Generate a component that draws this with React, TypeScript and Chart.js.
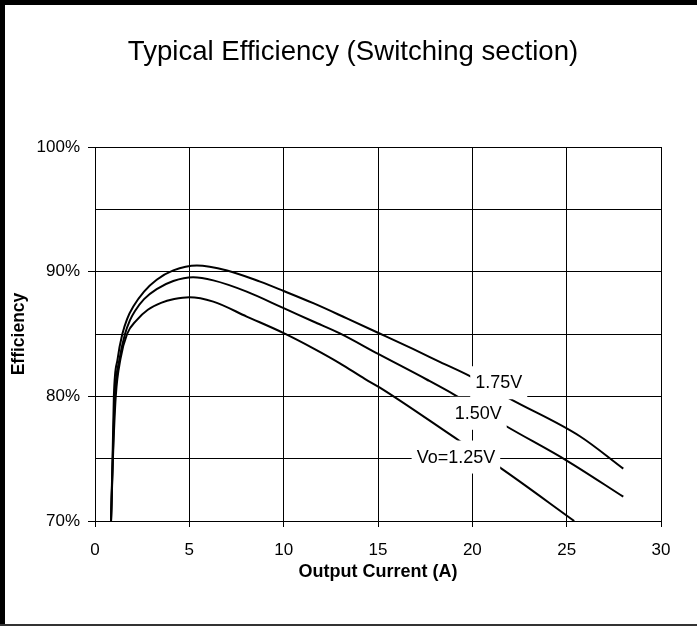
import React, { useEffect, useRef } from 'react';
import { Chart, registerables } from 'chart.js';

Chart.register(...registerables);

// ---- data ----
const current175 = [0.85, 0.93, 1.0, 1.2, 1.45, 1.7, 2.03, 2.6, 3.27, 4.15, 5.4, 7.0, 8.75, 10.0, 11.6, 13.35, 15.0, 16.85, 18.3, 19.9, 22.0, 25.7, 28.0];
const eff175 = [70, 75, 80, 83, 85, 86.2, 87.2, 88.4, 89.35, 90.1, 90.5, 90.1, 89.2, 88.45, 87.45, 86.25, 85.1, 83.8, 82.75, 81.6, 79.8, 76.8, 74.2];

const current150 = [0.85, 0.94, 1.05, 1.3, 1.59, 1.85, 2.12, 2.6, 3.27, 4.15, 5.2, 6.27, 8.04, 10.03, 11.57, 12.98, 15.01, 17.58, 19.08, 21.8, 25.0, 28.0];
const eff150 = [70, 75, 80, 83, 85, 86.1, 86.85, 87.8, 88.6, 89.25, 89.55, 89.3, 88.4, 87.05, 86.0, 85.05, 83.4, 81.35, 80.1, 77.6, 74.85, 71.95];

const current125 = [0.85, 0.95, 1.1, 1.35, 1.7, 2.2, 2.8, 3.5, 4.2, 5.0, 6.27, 8.04, 10.03, 11.57, 12.98, 14.3, 15.1, 19.35, 21.45, 25.4];
const eff125 = [70, 75, 80, 83, 85, 86.1, 86.95, 87.5, 87.8, 87.95, 87.6, 86.4, 85.05, 83.85, 82.65, 81.4, 80.7, 76.4, 74.3, 70];

const seriesNames = ['1.75V', '1.50V', 'Vo=1.25V'];
const labelCurrents = [21.4, 20.31, 19.13];
const labelEffs = [81.05, 78.6, 75.09];

const xTickValues = [0, 5, 10, 15, 20, 25, 30];
const yTickValues = [70, 80, 90, 100];
const titleText = 'Typical Efficiency (Switching section)';
const xTitle = 'Output Current (A)';
const yTitle = 'Efficiency';

const FONT = '"Liberation Sans", Arial, Helvetica, sans-serif';

const toPoints = (xs: number[], ys: number[]) => xs.map((x, i) => ({ x, y: ys[i] }));

const annotPlugin = {
  id: 'annot',
  afterDatasetsDraw(chart: any) {
    const { ctx, scales } = chart;
    const xs = scales.x;
    const ys = scales.y;
    ctx.save();
    ctx.font = `18px ${FONT}`;
    ctx.textAlign = 'center';
    ctx.textBaseline = 'middle';
    seriesNames.forEach((t, i) => {
      const px = xs.getPixelForValue(labelCurrents[i]);
      const py = ys.getPixelForValue(labelEffs[i]);
      const w = ctx.measureText(t).width;
      ctx.fillStyle = '#fff';
      ctx.fillRect(px - w / 2 - 5, py - 17, w + 10, 33);
    });
    seriesNames.forEach((t, i) => {
      const px = xs.getPixelForValue(labelCurrents[i]);
      const py = ys.getPixelForValue(labelEffs[i]);
      ctx.fillStyle = '#000';
      ctx.fillText(t, px, py);
    });
    ctx.restore();
  },
  afterDraw(chart: any) {
    const { ctx, width, height } = chart;
    ctx.save();
    ctx.fillStyle = '#000';
    ctx.fillRect(0, 0, 5, height);
    ctx.fillRect(0, 0, width, 5);
    ctx.fillStyle = '#333';
    ctx.fillRect(0, height - 2, width, 2);
    ctx.fillStyle = '#000';
    ctx.font = `27.6px ${FONT}`;
    ctx.textAlign = 'center';
    ctx.textBaseline = 'alphabetic';
    ctx.fillText(titleText, 353, 60);
    ctx.restore();
  },
};

export default function App() {
  const ref = useRef<HTMLCanvasElement | null>(null);
  useEffect(() => {
    document.body.style.margin = '0';
    if (!ref.current) return;
    Chart.defaults.font.family = FONT;
    Chart.defaults.color = '#000';
    const mk = (label: string, xs: number[], ys: number[]) => ({
      label,
      data: toPoints(xs, ys),
      borderColor: '#000',
      backgroundColor: '#000',
      borderWidth: 2,
      pointRadius: 0,
      fill: false,
      tension: 0.4,
      cubicInterpolationMode: 'monotone' as const,
    });
    const chart = new Chart(ref.current, {
      type: 'line',
      data: {
        datasets: [
          mk(seriesNames[0], current175, eff175),
          mk(seriesNames[1], current150, eff150),
          mk(seriesNames[2], current125, eff125),
        ],
      },
      options: {
        animation: false,
        responsive: false,
        devicePixelRatio: 1,
        layout: { padding: { left: 0, right: 36, top: 147, bottom: 0 } },
        plugins: { legend: { display: false }, tooltip: { enabled: false }, title: { display: false } },
        scales: {
          x: {
            type: 'linear',
            min: 0,
            max: 30,
            afterFit: (s: any) => { s.height = 105; },
            afterBuildTicks: (s: any) => { s.ticks = xTickValues.map((v) => ({ value: v })); },
            ticks: { stepSize: 5, padding: 13, font: { size: 17 }, color: '#000', maxRotation: 0 },
            grid: { color: '#000', lineWidth: 1, tickLength: 6, tickColor: '#000' },
            border: { color: '#000', width: 1 },
            title: { display: true, text: xTitle, font: { size: 18, weight: 'bold' }, color: '#000', padding: { top: 0, bottom: 43.5 } },
          },
          y: {
            type: 'linear',
            min: 70,
            max: 100,
            afterFit: (s: any) => { s.width = 95; },
            ticks: {
              stepSize: 5,
              padding: 8,
              font: { size: 17 },
              color: '#000',
              callback: (v: any) => (yTickValues.includes(Number(v)) ? `${v}%` : ''),
            },
            grid: {
              color: '#000',
              lineWidth: 1,
              tickLength: 7,
              tickColor: (c: any) => (c.tick && yTickValues.includes(c.tick.value) ? '#000' : 'rgba(0,0,0,0)'),
            },
            border: { color: '#000', width: 1 },
            title: { display: true, text: yTitle, font: { size: 17.5, weight: 'bold' }, color: '#000', padding: { top: 8.5, bottom: 0 } },
          },
        },
      },
      plugins: [annotPlugin],
    } as any);
    return () => chart.destroy();
  }, []);
  return (
    <div style={{ width: 697, height: 626, background: '#fff' }}>
      <canvas ref={ref} width={697} height={626} style={{ display: 'block' }} />
    </div>
  );
}
